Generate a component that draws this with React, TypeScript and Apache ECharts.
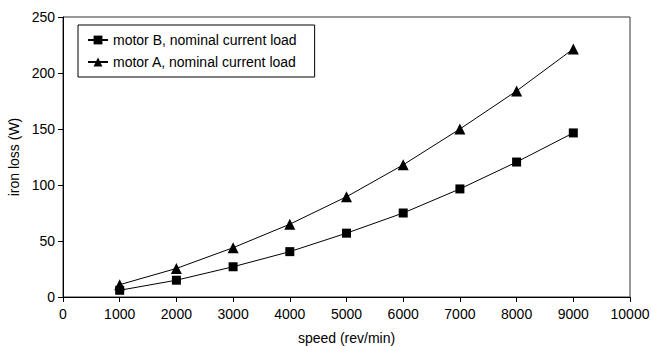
import React, { useEffect, useRef } from "react";
import * as echarts from "echarts";

const speeds = [1000, 2000, 3000, 4000, 5000, 6000, 7000, 8000, 9000];
const motorB = [6, 15, 27, 40.5, 57, 75, 96.5, 120.5, 146.5];
const motorA = [11, 25.5, 44, 65, 89.5, 118, 150, 184, 221.5];
const seriesNames = ["motor B, nominal current load", "motor A, nominal current load"];

export default function App() {
  const ref = useRef<HTMLDivElement>(null);
  useEffect(() => {
    if (!ref.current) return;
    const chart = echarts.init(ref.current, null, { renderer: "svg" });
    const font = "Arial, 'Liberation Sans', sans-serif";
    chart.setOption({
      animation: false,
      backgroundColor: "#fff",
      textStyle: { fontFamily: font },
      grid: {
        left: 63,
        right: 21,
        top: 17,
        bottom: 50,
        show: true,
        borderColor: "#333",
        borderWidth: 1,
        outerBoundsMode: "none",
        containLabel: false,
      },
      legend: {
        orient: "vertical",
        left: 78,
        top: 25,
        padding: [8, 18, 8, 9],
        itemGap: 8,
        itemWidth: 20,
        itemHeight: 11,
        borderColor: "#000",
        borderWidth: 1,
        textStyle: { fontSize: 14, color: "#000", fontFamily: font },
        data: seriesNames,
      },
      xAxis: {
        type: "value",
        min: 0,
        max: 10000,
        interval: 1000,
        name: "speed (rev/min)",
        nameLocation: "middle",
        nameGap: 34,
        nameTextStyle: { fontSize: 14, color: "#000", fontFamily: font },
        axisLine: { show: true, lineStyle: { color: "#000", width: 1 } },
        axisTick: { show: true, length: 5, lineStyle: { color: "#000" } },
        axisLabel: {
          fontSize: 14,
          color: "#000",
          margin: 10,
          fontFamily: font,
          formatter: (v: number) => String(v),
        },
        splitLine: { show: false },
      },
      yAxis: {
        type: "value",
        min: 0,
        max: 250,
        interval: 50,
        name: "iron loss (W)",
        nameLocation: "middle",
        nameGap: 40,
        nameRotate: 90,
        nameTextStyle: { fontSize: 14, color: "#000", fontFamily: font },
        axisLine: { show: true, lineStyle: { color: "#000", width: 1 } },
        axisTick: { show: true, length: 5, lineStyle: { color: "#000" } },
        axisLabel: { fontSize: 14, color: "#000", margin: 8, fontFamily: font },
        splitLine: { show: false },
      },
      series: [
        {
          name: seriesNames[0],
          type: "line",
          data: speeds.map((s, i) => [s, motorB[i]]),
          symbol: "rect",
          symbolSize: 9,
          lineStyle: { color: "#000", width: 1 },
          itemStyle: { color: "#000" },
        },
        {
          name: seriesNames[1],
          type: "line",
          data: speeds.map((s, i) => [s, motorA[i]]),
          symbol: "triangle",
          symbolSize: 11,
          lineStyle: { color: "#000", width: 1 },
          itemStyle: { color: "#000" },
        },
      ],
    });
    return () => chart.dispose();
  }, []);
  return <div ref={ref} style={{ width: 651, height: 347, position: "absolute", left: 0, top: 0 }} />;
}
